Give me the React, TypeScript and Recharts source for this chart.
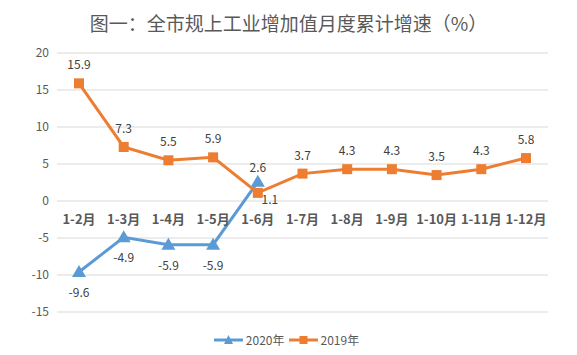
import React from 'react';
import { LineChart, Line, XAxis, YAxis, CartesianGrid } from 'recharts';

const categories = ['1-2月', '1-3月', '1-4月', '1-5月', '1-6月', '1-7月', '1-8月', '1-9月', '1-10月', '1-11月', '1-12月'];
const values2020: (number | null)[] = [-9.6, -4.9, -5.9, -5.9, 2.6, null, null, null, null, null, null];
const values2019 = [15.9, 7.3, 5.5, 5.9, 1.1, 3.7, 4.3, 4.3, 3.5, 4.3, 5.8];
const yTicks = [-15, -10, -5, 0, 5, 10, 15, 20];

const data = categories.map((month, i) => ({
  month,
  y2020: values2020[i],
  y2019: values2019[i],
}));

const W = 577;
const H = 355;
const TOP = 53;
const BOTTOM = 43;
const LEFT = 57;
const XAXIS_H = 20;
const PLOT_H = H - TOP - BOTTOM;
const ZERO_Y = TOP + (PLOT_H * 20) / 35;

const BLUE = '#5B9BD5';
const ORANGE = '#ED7D31';
const TEXT = '#595959';
const FONT = '"Noto Sans CJK SC", "Noto Sans", sans-serif';

// month labels sit just under the zero line, not at the bottom
const MonthTick = (props: any) => {
  const { x, payload } = props;
  return (
    <text x={x} y={ZERO_Y + 23} textAnchor="middle" fontSize={13} fontWeight="bold" fill={TEXT} fontFamily={FONT}>
      {payload.value}
    </text>
  );
};

const ValueTick = (props: any) => {
  const { y, payload } = props;
  return (
    <text x={LEFT - 8} y={y} dy={4} textAnchor="end" fontSize={12} fill={TEXT} fontFamily={FONT}>
      {payload.value}
    </text>
  );
};

const Triangle = (props: any) => {
  const { cx, cy, value } = props;
  if (value == null || cx == null) return null;
  return <polygon points={`${cx},${cy - 7} ${cx - 7},${cy + 5} ${cx + 7},${cy + 5}`} fill={BLUE} />;
};

const Square = (props: any) => {
  const { cx, cy } = props;
  if (cx == null) return null;
  return <rect x={cx - 5} y={cy - 5} width={10} height={10} fill={ORANGE} />;
};

const label2019 = (props: any) => {
  const { x, y, value, index } = props;
  const below = index === 4;
  return (
    <text x={below ? x + 12 : x} y={below ? y + 11 : y - 14} textAnchor="middle" fontSize={12} fill="#404040" fontFamily={FONT}>
      {value}
    </text>
  );
};

const label2020 = (props: any) => {
  const { x, y, value, index } = props;
  if (value == null) return null;
  const above = index === 4;
  return (
    <text x={x} y={above ? y - 10 : y + 25} textAnchor="middle" fontSize={12} fill="#404040" fontFamily={FONT}>
      {value}
    </text>
  );
};

const LegendItem = ({ color, marker, text }: { color: string; marker: 'tri' | 'sq'; text: string }) => (
  <div style={{ display: 'flex', alignItems: 'center', marginRight: 4 }}>
    <svg width={29} height={12}>
      <line x1={0} y1={6} x2={29} y2={6} stroke={color} strokeWidth={3} />
      {marker === 'tri' ? (
        <polygon points="14.5,1 10,10 19,10" fill={color} />
      ) : (
        <rect x={10.5} y={2} width={8} height={8} fill={color} />
      )}
    </svg>
    <span style={{ marginLeft: 3 }}>{text}</span>
  </div>
);

export default function App() {
  return (
    <div style={{ position: 'absolute', left: 0, top: 0, width: W, height: H, background: '#fff', fontFamily: FONT }}>
      <div style={{ position: 'absolute', top: 9, left: 0, width: W, textAlign: 'center', fontSize: 19, color: TEXT }}>
        图一：全市规上工业增加值月度累计增速（%）
      </div>
      <LineChart width={W} height={H} data={data} margin={{ top: TOP, right: 29, bottom: BOTTOM - XAXIS_H, left: 0 }}>
        <CartesianGrid vertical={false} stroke="#d9d9d9" />
        <XAxis
          dataKey="month"
          height={XAXIS_H}
          axisLine={false}
          tickLine={false}
          tick={<MonthTick />}
          interval={0}
          padding={{ left: 22, right: 22 }}
        />
        <YAxis
          width={LEFT}
          domain={[-15, 20]}
          ticks={yTicks}
          axisLine={false}
          tickLine={false}
          tick={<ValueTick />}
        />
        <Line
          dataKey="y2020"
          stroke={BLUE}
          strokeWidth={3}
          dot={<Triangle />}
          activeDot={false}
          label={label2020}
          isAnimationActive={false}
        />
        <Line
          dataKey="y2019"
          stroke={ORANGE}
          strokeWidth={3}
          dot={<Square />}
          activeDot={false}
          label={label2019}
          isAnimationActive={false}
        />
      </LineChart>
      <div
        style={{
          position: 'absolute',
          top: 331,
          left: 0,
          width: W,
          display: 'flex',
          justifyContent: 'center',
          fontSize: 12,
          color: TEXT,
        }}
      >
        <LegendItem color={BLUE} marker="tri" text="2020年" />
        <LegendItem color={ORANGE} marker="sq" text="2019年" />
      </div>
    </div>
  );
}
